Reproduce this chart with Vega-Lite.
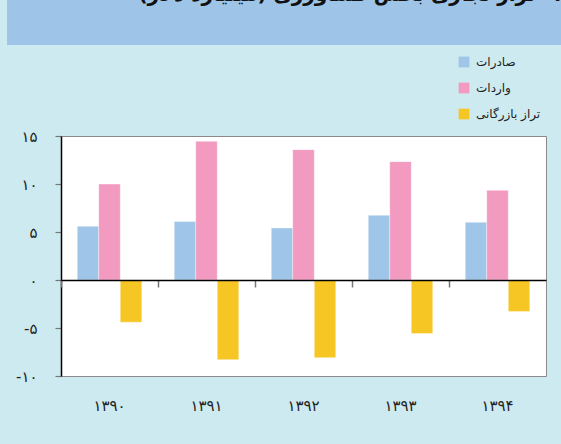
{
  "$schema": "https://vega.github.io/schema/vega-lite/v6.json",
  "background": "#cdeaf0",
  "autosize": {"type": "none"},
  "padding": {"left": 61, "top": 136, "right": 15, "bottom": 68},
  "width": 485,
  "height": 240,
  "config": {"font": "DejaVu Sans"},
  "view": {"fill": "#ffffff", "stroke": "#8a8a8a", "strokeWidth": 1},
  "data": {"values": [
    {"year": "۱۳۹۰", "series": "صادرات", "o": 1, "value": 5.6},
    {"year": "۱۳۹۰", "series": "واردات", "o": 2, "value": 10.0},
    {"year": "۱۳۹۰", "series": "تراز بازرگانی", "o": 3, "value": -4.4},
    {"year": "۱۳۹۱", "series": "صادرات", "o": 1, "value": 6.1},
    {"year": "۱۳۹۱", "series": "واردات", "o": 2, "value": 14.45},
    {"year": "۱۳۹۱", "series": "تراز بازرگانی", "o": 3, "value": -8.3},
    {"year": "۱۳۹۲", "series": "صادرات", "o": 1, "value": 5.42},
    {"year": "۱۳۹۲", "series": "واردات", "o": 2, "value": 13.58},
    {"year": "۱۳۹۲", "series": "تراز بازرگانی", "o": 3, "value": -8.1},
    {"year": "۱۳۹۳", "series": "صادرات", "o": 1, "value": 6.74},
    {"year": "۱۳۹۳", "series": "واردات", "o": 2, "value": 12.33},
    {"year": "۱۳۹۳", "series": "تراز بازرگانی", "o": 3, "value": -5.58},
    {"year": "۱۳۹۴", "series": "صادرات", "o": 1, "value": 6.01},
    {"year": "۱۳۹۴", "series": "واردات", "o": 2, "value": 9.34},
    {"year": "۱۳۹۴", "series": "تراز بازرگانی", "o": 3, "value": -3.28}
  ]},
  "mark": {"type": "bar", "stroke": "#ffffff", "strokeWidth": 0.6, "strokeOpacity": 0.7},
  "encoding": {
    "x": {
      "field": "year", "type": "nominal", "sort": null,
      "scale": {"paddingInner": 0, "paddingOuter": 0},
      "axis": {
        "title": null, "orient": "bottom", "offset": -96, "bandPosition": 0,
        "domain": true, "domainColor": "#000000", "domainWidth": 1.5,
        "ticks": true, "tickColor": "#777777", "tickSize": 7, "tickWidth": 1.5,
        "labelAngle": 0, "labelDx": 48.5, "labelPadding": 111, "labelFontSize": 15,
        "labelColor": "#222222", "zindex": 1
      }
    },
    "xOffset": {"field": "o", "type": "ordinal", "scale": {"paddingInner": 0, "paddingOuter": 0.755}},
    "y": {
      "field": "value", "type": "quantitative",
      "scale": {"domain": [-10, 15], "nice": false, "zero": false},
      "axis": {
        "title": null, "values": [-10, -5, 0, 5, 10, 15], "grid": false,
        "domainColor": "#000000", "domainWidth": 1.5,
        "tickColor": "#777777", "tickSize": 6, "tickWidth": 1.2,
        "labelPadding": 18, "labelFontSize": 15, "labelColor": "#222222",
        "labelExpr": "datum.value == 15 ? '۱۵' : datum.value == 10 ? '۱۰' : datum.value == 5 ? '۵' : datum.value == 0 ? '۰' : datum.value == -5 ? '-۵' : '-۱۰'"
      }
    },
    "color": {
      "field": "series", "type": "nominal",
      "sort": ["صادرات", "واردات", "تراز بازرگانی"],
      "scale": {"domain": ["صادرات", "واردات", "تراز بازرگانی"], "range": ["#9fc5e8", "#f29ac0", "#f6c724"]},
      "legend": {
        "title": null, "orient": "none", "legendX": 397, "legendY": -80,
        "symbolType": "square", "symbolSize": 115, "symbolStrokeWidth": 0,
        "labelFontSize": 12, "labelColor": "#222222", "rowPadding": 14, "labelOffset": 6
      }
    },
    "strokeDash": {
      "datum": "header",
      "scale": {"range": [[1, 0]]},
      "legend": {
        "title": "نمودار ۱- تراز تجاری بخش کشاورزی (میلیارد دلار)",
        "titleFontSize": 20, "titleFontWeight": "bold", "titleColor": "#111111",
        "titleLimit": 2000, "titleAnchor": "end", "titleAlign": "right", "titleBaseline": "top", "titlePadding": 5,
        "orient": "none", "legendX": -54, "legendY": -161,
        "fillColor": "#9ec5e8", "strokeColor": null, "padding": 10, "zindex": 0,
        "symbolOpacity": 0, "labelOpacity": 0, "symbolSize": 576, "labelOffset": 540, "labelFontSize": 14
      }
    }
  }
}
